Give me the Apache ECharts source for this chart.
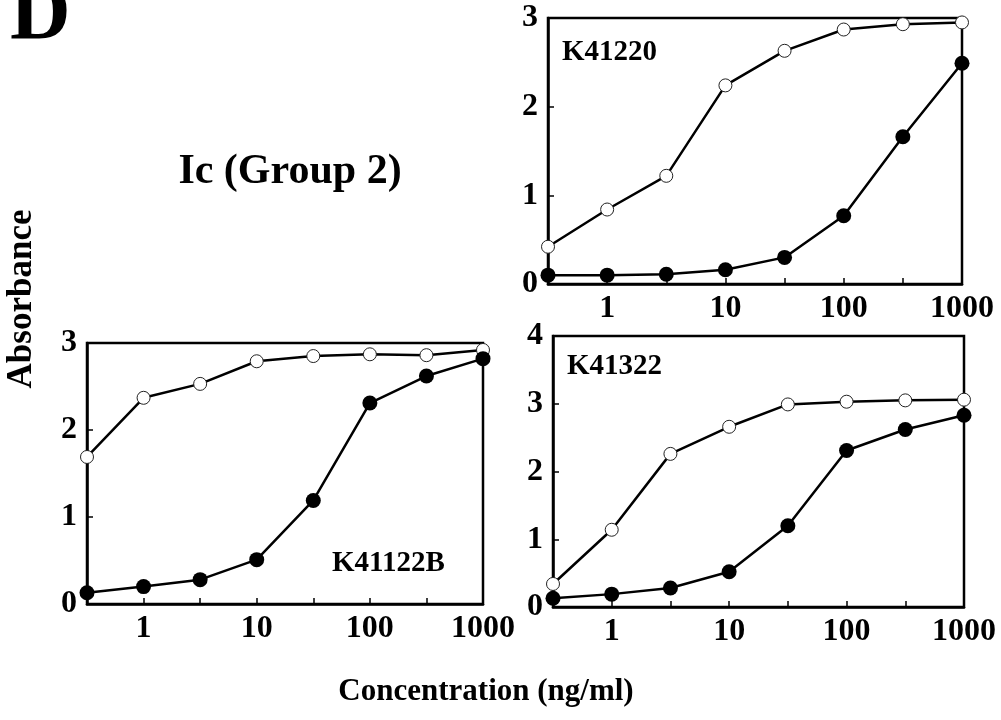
<!DOCTYPE html>
<html>
<head>
<meta charset="utf-8">
<script src="https://cdn.jsdelivr.net/npm/echarts@6/dist/echarts.min.js"></script>
<style>
    html, body { margin: 0; padding: 0; background: #fff; }
    #chart { width: 1001px; height: 720px; }
</style>
</head>
<body>
<div id="chart"></div>
<script>
// concentrations (ng/ml), half-log dilution steps
var concLabels = ['0.3', '1', '3', '10', '30', '100', '300', '1000'];
var shownLabels = ['1', '10', '100', '1000'];

// K41220 (top right)
var k41220Open = [0.42, 0.84, 1.22, 2.24, 2.63, 2.87, 2.93, 2.95];
var k41220Filled = [0.10, 0.10, 0.11, 0.16, 0.30, 0.77, 1.66, 2.49];
// K41122B (bottom left)
var k41122bOpen = [1.69, 2.37, 2.53, 2.79, 2.85, 2.87, 2.86, 2.92];
var k41122bFilled = [0.13, 0.20, 0.28, 0.51, 1.19, 2.31, 2.62, 2.82];
// K41322 (bottom right)
var k41322Open = [0.34, 1.14, 2.26, 2.66, 2.99, 3.03, 3.05, 3.06];
var k41322Filled = [0.13, 0.19, 0.28, 0.52, 1.20, 2.31, 2.62, 2.83];

var FONT = 'Liberation Serif';

var panels = [
    { name: 'K41220', open: k41220Open, filled: k41220Filled, yMax: 3,
      grid: { left: 548, top: 18, width: 414, height: 266 } },
    { name: 'K41122B', open: k41122bOpen, filled: k41122bFilled, yMax: 3,
      grid: { left: 87, top: 343, width: 396, height: 261 } },
    { name: 'K41322', open: k41322Open, filled: k41322Filled, yMax: 4,
      grid: { left: 553, top: 336, width: 411, height: 271 } }
];

var grids = [], xAxes = [], yAxes = [], series = [];

panels.forEach(function (p, i) {
    grids.push({
        left: p.grid.left, top: p.grid.top, width: p.grid.width, height: p.grid.height,
        show: true, borderColor: '#000', borderWidth: 2.5, backgroundColor: 'transparent'
    });
    xAxes.push({
        gridIndex: i,
        type: 'category',
        data: concLabels,
        boundaryGap: false,
        axisLine: { lineStyle: { color: '#000', width: 2.5 } },
        axisTick: {
            inside: true, length: 6,
            lineStyle: { color: '#000', width: 1.5 },
            interval: function (idx) { return idx > 0 && idx < concLabels.length - 1; }
        },
        axisLabel: {
            margin: 9,
            color: '#000', fontFamily: FONT, fontWeight: 'bold', fontSize: 32,
            interval: function (idx, val) { return shownLabels.indexOf(val) >= 0; }
        },
        splitLine: { show: false }
    });
    yAxes.push({
        gridIndex: i,
        type: 'value',
        min: 0, max: p.yMax, interval: 1,
        axisLine: { show: true, lineStyle: { color: '#000', width: 2.5 } },
        axisTick: { show: true, inside: true, length: 6, lineStyle: { color: '#000', width: 1.5 } },
        axisLabel: { margin: 10, color: '#000', fontFamily: FONT, fontWeight: 'bold', fontSize: 32 },
        splitLine: { show: false }
    });
    series.push({
        name: p.name + ' open',
        type: 'line',
        xAxisIndex: i, yAxisIndex: i,
        data: p.open,
        clip: false,
        symbol: 'circle', symbolSize: 13,
        lineStyle: { color: '#000', width: 2.5 },
        itemStyle: { color: '#fff', borderColor: '#222', borderWidth: 1 },
        z: 3
    });
    series.push({
        name: p.name + ' filled',
        type: 'line',
        xAxisIndex: i, yAxisIndex: i,
        data: p.filled,
        clip: false,
        symbol: 'circle', symbolSize: 15,
        lineStyle: { color: '#000', width: 2.5 },
        itemStyle: { color: '#000', borderColor: '#000', borderWidth: 0 },
        z: 4
    });
});

function label(text, x, y, size, opts) {
    var el = {
        type: 'text', x: x, y: y, z: 10,
        style: {
            text: text, fill: '#000',
            font: 'bold ' + size + 'px "' + FONT + '"',
            align: (opts && opts.align) || 'left',
            verticalAlign: 'middle'
        }
    };
    if (opts && opts.rotation) el.rotation = opts.rotation;
    return el;
}

var chart = echarts.init(document.getElementById('chart'), null, { renderer: 'canvas' });
chart.setOption({
    animation: false,
    backgroundColor: '#fff',
    grid: grids,
    xAxis: xAxes,
    yAxis: yAxes,
    series: series,
    graphic: [
        label('D', 10, 17, 84),
        label('Ic (Group 2)', 290, 172, 42, { align: 'center' }),
        label('Absorbance', 22, 299, 35, { align: 'center', rotation: Math.PI / 2 }),
        label('Concentration (ng/ml)', 486, 692, 31, { align: 'center' }),
        label('K41220', 562, 53, 29),
        label('K41122B', 332, 564, 29),
        label('K41322', 567, 367, 29)
    ]
});
</script>
</body>
</html>
